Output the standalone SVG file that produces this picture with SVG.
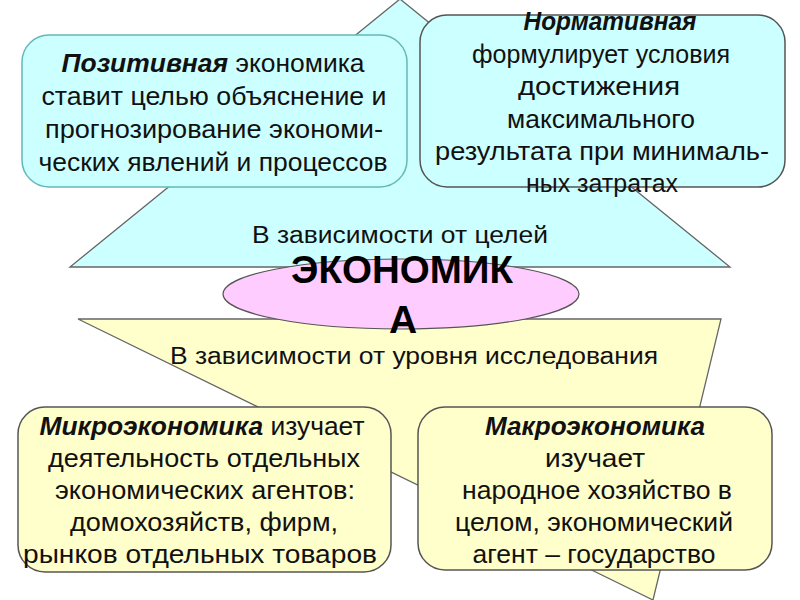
<svg xmlns="http://www.w3.org/2000/svg" width="800" height="600" viewBox="0 0 800 600">
<style>
  .t { font-family: "Liberation Sans", Arial, sans-serif; font-size: 26px; fill: #111; text-anchor: middle; }
  .h { font-size: 23px; }
  .big { font-size: 39px; font-weight: bold; fill: #000; }
  .b { font-weight: bold; font-style: italic; }
  .cyan { fill: #ccffff; }
  .yel { fill: #ffffcc; }
  .shape { stroke: #666; stroke-width: 1.3; }
  .box { stroke-width: 1.5; }
</style>
<rect width="800" height="600" fill="#ffffff"/>
<g id="goals-triangle">
  <polygon class="cyan shape" points="400,-1 730,267 70,267"/>
  <text class="t h" x="400" y="243" textLength="296" lengthAdjust="spacingAndGlyphs">В зависимости от целей</text>
</g>
<g id="level-triangle">
  <polygon class="yel shape" points="78,319 721,319 653,600"/>
  <text class="t h" x="414" y="364" textLength="488" lengthAdjust="spacingAndGlyphs">В зависимости от уровня исследования</text>
</g>
<g id="economy">
  <ellipse cx="401" cy="294" rx="178" ry="35" fill="#ffccff" stroke="#555" stroke-width="1.2"/>
  <text class="t big" x="402" y="283" textLength="222" lengthAdjust="spacingAndGlyphs">ЭКОНОМИК</text>
  <text class="t big" x="403" y="333">А</text>
</g>
<g id="positive">
  <rect class="cyan box" x="22" y="35" width="385" height="152" rx="27" stroke="#66b8b8"/>
  <text class="t" x="213" y="72" textLength="303" lengthAdjust="spacingAndGlyphs"><tspan class="b">Позитивная</tspan> экономика</text>
  <text class="t" x="214" y="105" textLength="345" lengthAdjust="spacingAndGlyphs">ставит целью объяснение и</text>
  <text class="t" x="214" y="138" textLength="338" lengthAdjust="spacingAndGlyphs">прогнозирование экономи-</text>
  <text class="t" x="213" y="170.5" textLength="349" lengthAdjust="spacingAndGlyphs">ческих явлений и процессов</text>
</g>
<g id="normative">
  <rect class="cyan box" x="420" y="15" width="365" height="172" rx="27" stroke="#555"/>
  <text class="t b" x="610" y="30" textLength="173" lengthAdjust="spacingAndGlyphs">Нормативная</text>
  <text class="t" x="601" y="62.5" textLength="258" lengthAdjust="spacingAndGlyphs">формулирует условия</text>
  <text class="t" x="599" y="95" textLength="162" lengthAdjust="spacingAndGlyphs">достижения</text>
  <text class="t" x="601" y="127.5" textLength="188" lengthAdjust="spacingAndGlyphs">максимального</text>
  <text class="t" x="602" y="160" textLength="334" lengthAdjust="spacingAndGlyphs">результата при минималь-</text>
  <text class="t" x="602" y="192" textLength="152" lengthAdjust="spacingAndGlyphs">ных затратах</text>
</g>
<g id="micro">
  <rect class="yel box" x="18" y="407" width="373" height="165" rx="27" stroke="#555"/>
  <text class="t" x="202" y="435" textLength="325" lengthAdjust="spacingAndGlyphs"><tspan class="b">Микроэкономика</tspan> изучает</text>
  <text class="t" x="204" y="467" textLength="312" lengthAdjust="spacingAndGlyphs">деятельность отдельных</text>
  <text class="t" x="205" y="499" textLength="300" lengthAdjust="spacingAndGlyphs">экономических агентов:</text>
  <text class="t" x="204" y="531" textLength="268" lengthAdjust="spacingAndGlyphs">домохозяйств, фирм,</text>
  <text class="t" x="200" y="563" textLength="354" lengthAdjust="spacingAndGlyphs">рынков отдельных товаров</text>
</g>
<g id="macro">
  <rect class="yel box" x="418" y="407" width="354" height="163" rx="27" stroke="#555"/>
  <text class="t b" x="595" y="435" textLength="220" lengthAdjust="spacingAndGlyphs">Макроэкономика</text>
  <text class="t" x="595" y="467" textLength="100" lengthAdjust="spacingAndGlyphs">изучает</text>
  <text class="t" x="597" y="499" textLength="270" lengthAdjust="spacingAndGlyphs">народное хозяйство в</text>
  <text class="t" x="594" y="531" textLength="278" lengthAdjust="spacingAndGlyphs">целом, экономический</text>
  <text class="t" x="594" y="563" textLength="243" lengthAdjust="spacingAndGlyphs">агент – государство</text>
</g>
<g id="connectors"/>
</svg>
